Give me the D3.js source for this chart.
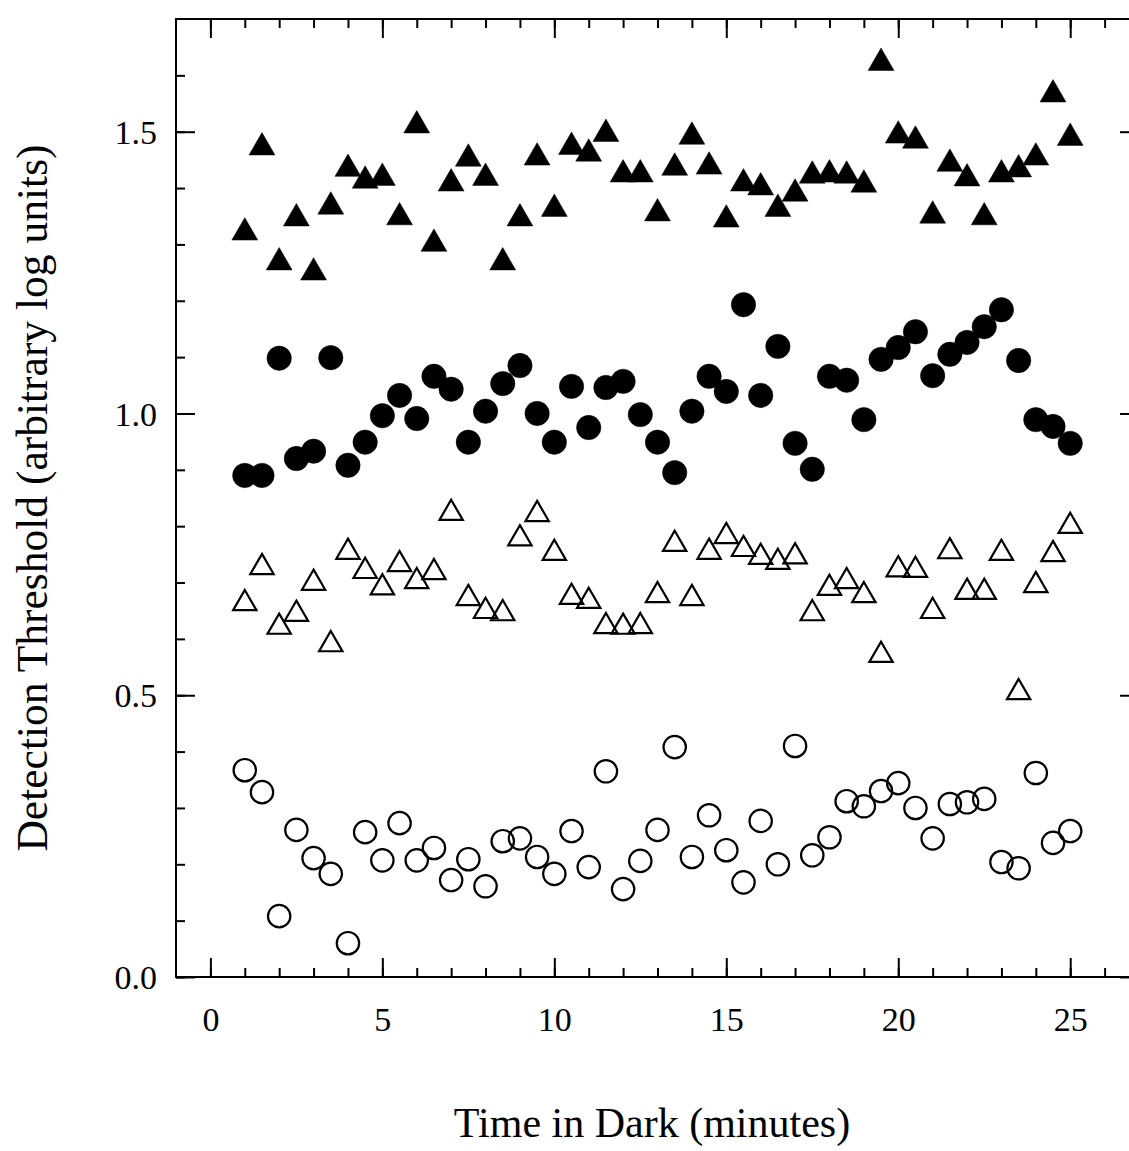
<!DOCTYPE html>
<html>
<head>
<meta charset="utf-8">
<script src="https://cdn.jsdelivr.net/npm/d3@7"></script>
<style>
    body { margin: 0; background: #fff; }
    svg { display: block; overflow: hidden; }
    text { font-family: "Liberation Serif", "Times New Roman", serif; fill: #000; }
</style>
</head>
<body>
<div class="container"></div>
<script>
// DATA
const times = [1, 1.5, 2, 2.5, 3, 3.5, 4, 4.5, 5, 5.5, 6, 6.5, 7, 7.5, 8, 8.5, 9, 9.5, 10, 10.5,
    11, 11.5, 12, 12.5, 13, 13.5, 14, 14.5, 15, 15.5, 16, 16.5, 17, 17.5, 18, 18.5, 19, 19.5, 20,
    20.5, 21, 21.5, 22, 22.5, 23, 23.5, 24, 24.5, 25];

const filledTriangles = [1.321, 1.472, 1.268, 1.346, 1.250, 1.367, 1.434, 1.413, 1.418, 1.348,
    1.511, 1.301, 1.408, 1.452, 1.418, 1.268, 1.346, 1.454, 1.363, 1.473, 1.461, 1.496, 1.424,
    1.424, 1.355, 1.436, 1.491, 1.438, 1.344, 1.408, 1.401, 1.363, 1.390, 1.422, 1.424, 1.422,
    1.406, 1.622, 1.493, 1.484, 1.351, 1.443, 1.417, 1.348, 1.424, 1.433, 1.454, 1.566, 1.489];

const filledCircles = [0.890, 0.890, 1.098, 0.920, 0.933, 1.099, 0.908, 0.949, 0.996, 1.032,
    0.991, 1.066, 1.043, 0.949, 1.004, 1.053, 1.085, 1.000, 0.949, 1.048, 0.975, 1.046, 1.057,
    0.998, 0.949, 0.895, 1.004, 1.066, 1.039, 1.193, 1.032, 1.119, 0.947, 0.901, 1.066, 1.059,
    0.989, 1.096, 1.117, 1.145, 1.067, 1.105, 1.126, 1.154, 1.184, 1.094, 0.989, 0.977, 0.947];

const openTriangles = [0.663, 0.727, 0.621, 0.644, 0.699, 0.590, 0.754, 0.720, 0.691, 0.732,
    0.702, 0.718, 0.823, 0.672, 0.649, 0.645, 0.778, 0.821, 0.752, 0.674, 0.667, 0.622, 0.621,
    0.622, 0.677, 0.768, 0.672, 0.754, 0.782, 0.759, 0.745, 0.736, 0.746, 0.645, 0.690, 0.702,
    0.677, 0.571, 0.723, 0.722, 0.649, 0.755, 0.683, 0.683, 0.752, 0.505, 0.695, 0.750, 0.800];

const openCircles = [0.367, 0.328, 0.108, 0.261, 0.211, 0.183, 0.060, 0.257, 0.207, 0.273,
    0.207, 0.229, 0.172, 0.209, 0.161, 0.241, 0.246, 0.213, 0.183, 0.259, 0.195, 0.365, 0.156,
    0.206, 0.261, 0.408, 0.213, 0.287, 0.225, 0.168, 0.277, 0.200, 0.410, 0.216, 0.248, 0.312,
    0.303, 0.330, 0.344, 0.300, 0.246, 0.307, 0.310, 0.316, 0.204, 0.193, 0.362, 0.238, 0.259];

// ticks
const xMajorTicks = [0, 5, 10, 15, 20, 25];
const xMinorTicks = [0, 1, 2, 3, 4, 5, 6, 7, 8, 9, 10, 11, 12, 13, 14, 15, 16, 17, 18, 19, 20,
    21, 22, 23, 24, 25, 26];
const yMajorTicks = [0, 0.5, 1.0, 1.5];
const yMinorTicks = [0, 0.1, 0.2, 0.3, 0.4, 0.5, 0.6, 0.7, 0.8, 0.9, 1.0, 1.1, 1.2, 1.3, 1.4,
    1.5, 1.6];


// dimensions
const W = 1129, H = 1151;
const margin = { top: 19, left: 176, right: -10, bottom: 174 };
const width = W - margin.left - margin.right;
const height = H - margin.top - margin.bottom;

const svg = d3.select('.container')
    .append('svg')
    .attr('width', W)
    .attr('height', H);

const group = svg.append('g')
    .attr('transform', `translate(${margin.left}, ${margin.top})`);

// scales
const xScale = d3.scaleLinear().domain([-1, 27]).range([0, width]);
const yScale = d3.scaleLinear().domain([0, 1.7]).range([height, 0]);


// axes: ticks point inward on all four sides
const drawTicks = (axisFn, scale, values, size, transform, labels) => {
    const g = group.append('g')
        .attr('transform', transform)
        .call(axisFn(scale)
            .tickValues(values)
            .tickSize(-size)
            .tickPadding(labels ? 30 : 0)
            .tickFormat(labels ? labels : () => ''));
    g.select('.domain').remove();
    g.selectAll('.tick line').attr('stroke', '#000').attr('stroke-width', 2);
    g.selectAll('.tick text').style('font-size', '34px');
    return g;
};

drawTicks(d3.axisBottom, xScale, xMinorTicks, 9, `translate(0, ${height})`);
drawTicks(d3.axisBottom, xScale, xMajorTicks, 19, `translate(0, ${height})`, d3.format('d'));
drawTicks(d3.axisTop, xScale, xMinorTicks, 9, 'translate(0, 0)');
drawTicks(d3.axisTop, xScale, xMajorTicks, 19, 'translate(0, 0)');

drawTicks(d3.axisLeft, yScale, yMinorTicks, 9, 'translate(0, 0)');
const yLabels = drawTicks(d3.axisLeft, yScale, yMajorTicks, 19, 'translate(0, 0)', d3.format('.1f'));
yLabels.selectAll('.tick text').attr('x', -19).attr('dy', '0.34em');
drawTicks(d3.axisRight, yScale, yMinorTicks, 9, `translate(${width}, 0)`);
drawTicks(d3.axisRight, yScale, yMajorTicks, 19, `translate(${width}, 0)`);

// frame
group.append('rect')
    .attr('width', width)
    .attr('height', height)
    .attr('fill', 'none')
    .attr('stroke', '#000')
    .attr('stroke-width', 2);


// plot markers
const series = [
    { values: openCircles, shape: d3.symbolCircle, size: Math.PI * 11.2 * 11.2, filled: false },
    { values: openTriangles, shape: d3.symbolTriangle, size: 235, filled: false },
    { values: filledCircles, shape: d3.symbolCircle, size: Math.PI * 12.2 * 12.2, filled: true },
    { values: filledTriangles, shape: d3.symbolTriangle, size: 290, filled: true }
];

series.forEach(s => {
    group.append('g')
        .selectAll('path')
        .data(s.values)
        .enter()
        .append('path')
        .attr('transform', (d, i) => `translate(${xScale(times[i])}, ${yScale(d)})`)
        .attr('d', d3.symbol().type(s.shape).size(s.size))
        .attr('fill', s.filled ? '#000' : 'none')
        .attr('stroke', '#000')
        .attr('stroke-width', s.filled ? 0.5 : 2.2);
});


// axis titles
svg.append('text')
    .attr('x', 652)
    .attr('y', 1137)
    .attr('text-anchor', 'middle')
    .style('font-size', '42px')
    .text('Time in Dark (minutes)');

svg.append('text')
    .attr('transform', 'translate(47, 498) rotate(-90)')
    .attr('text-anchor', 'middle')
    .style('font-size', '43.5px')
    .text('Detection Threshold (arbitrary log units)');
</script>
</body>
</html>
